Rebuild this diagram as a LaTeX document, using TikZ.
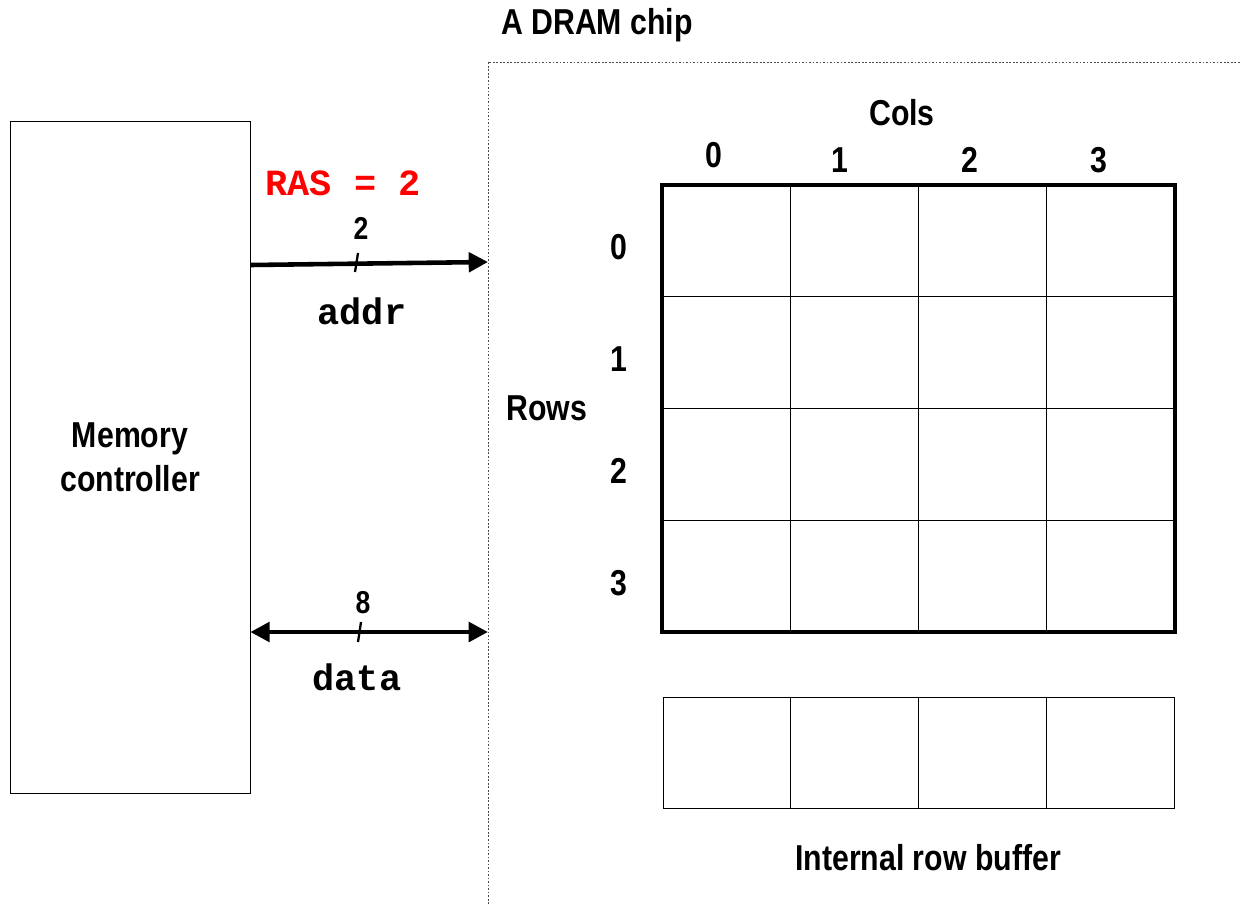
\documentclass[tikz,border=0pt]{standalone}
\usepackage{fontspec}
\setmainfont{Liberation Sans}[FakeStretch=0.84]
\setmonofont{Liberation Mono}
\usetikzlibrary{arrows.meta}
\begin{document}
\begin{tikzpicture}[x=0.02cm,y=-0.02cm,
    lbl/.style={font=\fontsize{20.5}{24}\selectfont\bfseries},
    small/.style={font=\fontsize{18}{20}\selectfont\bfseries},
    code/.style={font=\fontsize{21}{24}\selectfont\ttfamily\bfseries},
    cell/.style={draw,thin,minimum width=128.25*0.02cm,minimum height=111.75*0.02cm,inner sep=0pt},
    bus/.style={line width=2.6pt,-{Triangle[length=11pt,width=11pt]}}]
  \useasboundingbox (0,0) rectangle (1240,904);
  % the chip boundary
  \draw[dash pattern=on 1pt off 1pt,gray!60!black] (488,904) -- (488,62) -- (1240,62);
  \node[lbl] (chip) at (597,25) {A DRAM chip};
  % memory controller
  \node[draw,thin,minimum width=240*0.02cm,minimum height=672*0.02cm,lbl,align=center]
    (mc) at (130,457) {Memory\\[1pt]controller};
  % address bus
  \coordinate (addrend) at (488,262);
  \draw[bus] (mc.east |- 0,265) -- (addrend);
  \draw[line width=1.3pt] (355,272) -- (358,253);
  \node[small] (abits) at (361,228) {2};
  \node[code] (addr) at (362,311) {addr};
  \node[code,text=red] (ras) at (343,183) {RAS = 2};
  % data bus
  \coordinate (dataend) at (488,632);
  \draw[bus,{Triangle[length=11pt,width=11pt]}-{Triangle[length=11pt,width=11pt]}] (mc.east |- 0,632) -- (dataend);
  \draw[line width=1.3pt] (358,642) -- (361,622);
  \node[small] (dbits) at (363,603) {8};
  \node[code] (data) at (357,677) {data};
  % cell array
  \foreach \r in {0,...,3}
    \foreach \c in {0,...,3}
      \node[cell] (cell-\r-\c) at ({662+128.25*(\c+0.5)},{185+111.75*(\r+0.5)}) {};
  \draw[line width=2.4pt] (cell-0-0.north west) rectangle (cell-3-3.south east);
  \node[lbl] (cols) at (902,113) {Cols};
  \node[lbl] (rows) at (547,408) {Rows};
  \foreach \c/\x/\y in {0/714/155,1/840/160,2/970/160,3/1099/160}
    \node[lbl] (col-\c) at (\x,\y) {\c};
  \foreach \r in {0,...,3}
    \node[lbl] (row-\r) at (619,{247+112*\r}) {\r};
  % row buffer
  \foreach \c in {0,...,3}
    \node[cell,minimum width=127.75*0.02cm,minimum height=111*0.02cm]
      (buf-\c) at ({663+127.75*(\c+0.5)},752.5) {};
  \node[lbl] (buflbl) at (928,858) {Internal row buffer};
\end{tikzpicture}
\end{document}
